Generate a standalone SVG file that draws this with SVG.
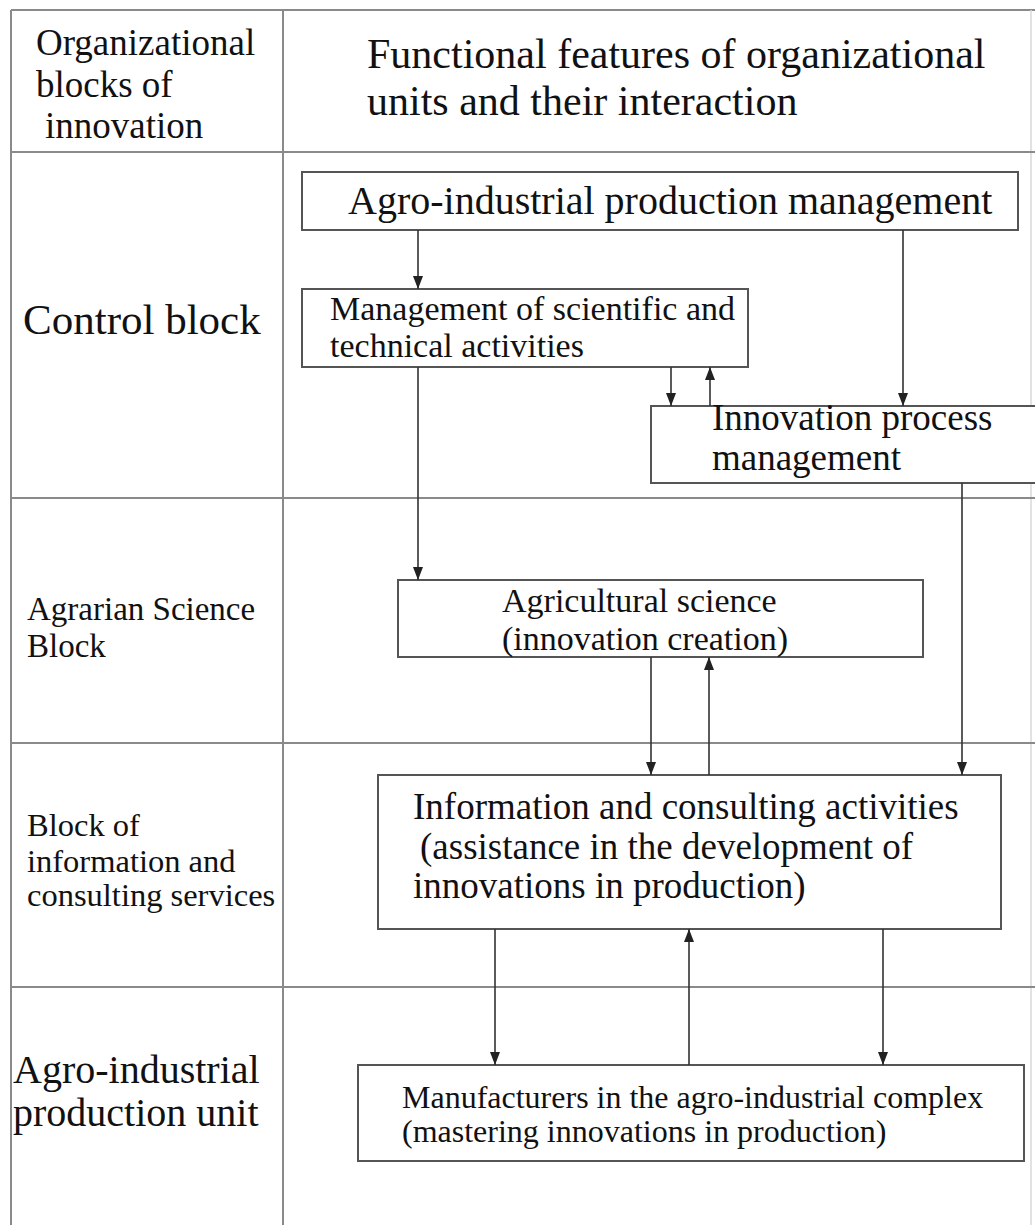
<svg xmlns="http://www.w3.org/2000/svg" width="1035" height="1225" viewBox="0 0 1035 1225">
<defs>
<marker id="ah" markerUnits="userSpaceOnUse" markerWidth="13" markerHeight="10" refX="13" refY="5" orient="auto" viewBox="0 0 13 10">
<path d="M0,0 L13,5 L0,10 z" fill="#222"/>
</marker>
<style>
.t{font-family:"Liberation Serif","Times New Roman",serif;fill:#111}
.grid{stroke:#8a8a8a;stroke-width:2;fill:none}
.box{stroke:#555;stroke-width:2;fill:#fff}
.c{stroke:#333;stroke-width:1.6;fill:none}
</style>
</defs>
<rect width="1035" height="1225" fill="#fff"/>
<g id="table">
<line class="grid" x1="11" y1="10" x2="1035" y2="10"/>
<line class="grid" x1="11" y1="10" x2="11" y2="1225"/>
<line class="grid" x1="283" y1="10" x2="283" y2="1225"/>
<line x1="1031" y1="10" x2="1031" y2="1225" stroke="#d8d8d8" stroke-width="1.5"/>
<line class="grid" x1="11" y1="152" x2="1035" y2="152"/>
<line class="grid" x1="11" y1="498" x2="1035" y2="498"/>
<line class="grid" x1="11" y1="743" x2="1035" y2="743"/>
<line class="grid" x1="11" y1="987" x2="1035" y2="987"/>
</g>
<g id="header-left">
<text class="t" font-size="37" x="36" y="55">Organizational</text>
<text class="t" font-size="37" x="36" y="97">blocks of</text>
<text class="t" font-size="37" x="45" y="138">innovation</text>
</g>
<g id="header-right">
<text class="t" font-size="42" x="367" y="68">Functional features of organizational</text>
<text class="t" font-size="42" x="367" y="115">units and their interaction</text>
</g>
<g id="row-control">
<text class="t" font-size="43" x="23" y="334">Control block</text>
</g>
<g id="row-science">
<text class="t" font-size="33" x="27" y="620">Agrarian Science</text>
<text class="t" font-size="33" x="27" y="657">Block</text>
</g>
<g id="row-info">
<text class="t" font-size="32.5" x="27" y="836">Block of</text>
<text class="t" font-size="32.5" x="27" y="872">information and</text>
<text class="t" font-size="32.5" x="27" y="906">consulting services</text>
</g>
<g id="row-production">
<text class="t" font-size="40" x="13" y="1083">Agro-industrial</text>
<text class="t" font-size="40" x="13" y="1126">production unit</text>
</g>
<g id="node-apm">
<rect class="box" x="302" y="172" width="716" height="58"/>
<text class="t" font-size="40" x="348" y="214">Agro-industrial production management</text>
</g>
<g id="node-msta">
<rect class="box" x="302" y="289" width="446" height="78"/>
<text class="t" font-size="34" x="330" y="320">Management of scientific and</text>
<text class="t" font-size="34" x="330" y="357">technical activities</text>
</g>
<g id="node-ipm">
<rect class="box" x="651" y="406" width="400" height="77"/>
<text class="t" font-size="37" x="712" y="430">Innovation process</text>
<text class="t" font-size="37" x="712" y="470">management</text>
</g>
<g id="node-agsci">
<rect class="box" x="398" y="580" width="525" height="77"/>
<text class="t" font-size="34" x="502" y="612">Agricultural science</text>
<text class="t" font-size="34" x="502" y="650">(innovation creation)</text>
</g>
<g id="node-info">
<rect class="box" x="378" y="775" width="623" height="154"/>
<text class="t" font-size="37" x="413" y="819">Information and consulting activities</text>
<text class="t" font-size="37" x="420" y="859">(assistance in the development of</text>
<text class="t" font-size="37" x="413" y="898">innovations in production)</text>
</g>
<g id="node-manuf">
<rect class="box" x="358" y="1065" width="666" height="96"/>
<text class="t" font-size="32" x="402" y="1108">Manufacturers in the agro-industrial complex</text>
<text class="t" font-size="32" x="402" y="1142">(mastering innovations in production)</text>
</g>
<g id="connectors">
<line class="c" x1="418" y1="230" x2="418" y2="289" marker-end="url(#ah)"/>
<line class="c" x1="903" y1="230" x2="903" y2="406" marker-end="url(#ah)"/>
<line class="c" x1="671" y1="367" x2="671" y2="406" marker-end="url(#ah)"/>
<line class="c" x1="710" y1="406" x2="710" y2="367" marker-end="url(#ah)"/>
<line class="c" x1="418" y1="367" x2="418" y2="580" marker-end="url(#ah)"/>
<line class="c" x1="962" y1="483" x2="962" y2="775" marker-end="url(#ah)"/>
<line class="c" x1="651" y1="657" x2="651" y2="775" marker-end="url(#ah)"/>
<line class="c" x1="709" y1="775" x2="709" y2="657" marker-end="url(#ah)"/>
<line class="c" x1="495" y1="929" x2="495" y2="1065" marker-end="url(#ah)"/>
<line class="c" x1="689" y1="1065" x2="689" y2="929" marker-end="url(#ah)"/>
<line class="c" x1="883" y1="929" x2="883" y2="1065" marker-end="url(#ah)"/>
</g>
</svg>
